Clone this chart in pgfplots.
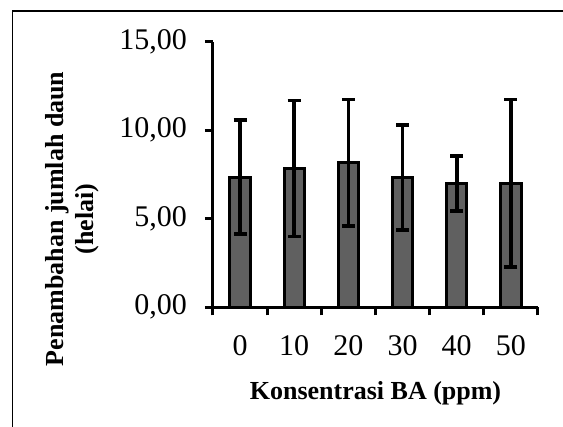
\documentclass[border=0pt]{standalone}
\usepackage{fontspec}
\setmainfont{Liberation Serif}
\usepackage{pgfplots}
\pgfplotsset{compat=1.18}
\definecolor{barfill}{RGB}{96,96,96}

\begin{document}
\begin{tikzpicture}
\path[use as bounding box] (0,0) rectangle (281.5pt,213.5pt);
% outer chart frame (only left and top edges fall inside the picture)
\draw[line width=0.9pt] (6.25pt,-2pt) -- (6.25pt,208pt) -- (285pt,208pt);
\begin{axis}[
  scale only axis, width=162.5pt, height=132.8pt,
  at={(106.5pt,59.85pt)}, anchor=south west,
  xmin=-0.5, xmax=5.5, ymin=0, ymax=15,
  axis x line*=bottom, axis y line*=left,
  axis line style={line width=1.5pt, -},
  tick align=outside, major tick length=4pt,
  every tick/.style={black, line width=1.5pt},
  xtick={-0.5,0.5,...,5.5}, xticklabels={},
  extra x ticks={0,1,2,3,4,5},
  extra x tick labels={0,10,20,30,40,50},
  extra x tick style={major tick length=0pt},
  ytick={0,5,10,15},
  yticklabels={{0,00},{5,00},{10,00},{15,00}},
  xticklabel style={font=\fontsize{15}{18}\selectfont, yshift=-10.5pt},
  yticklabel style={font=\fontsize{15}{18}\selectfont, xshift=-5.5pt},
  xlabel={Konsentrasi BA (ppm)},
  ylabel={Penambahan jumlah daun\\(helai)},
  label style={font=\bfseries\fontsize{13}{15}\selectfont},
  xlabel style={at={(rel axis cs:0.5,-0.349)}, anchor=base},
  ylabel style={at={(rel axis cs:-0.434,0.3325)}, anchor=center, align=center},
  ybar, bar width=10.2pt,
]
\addplot[fill=barfill, draw=black, line width=1.5pt,
  error bars/.cd, y dir=both, y explicit,
  error bar style={line width=1.8pt, black},
  error mark options={rotate=90, line width=1.8pt, black, mark size=3.25pt}]
  table[x=x, y=y, y error=e] {
x y e
0 7.35 3.22
1 7.84 3.84
2 8.16 3.57
3 7.33 2.95
4 7.00 1.55
5 7.00 4.74
};
\end{axis}
\end{tikzpicture}
\end{document}
